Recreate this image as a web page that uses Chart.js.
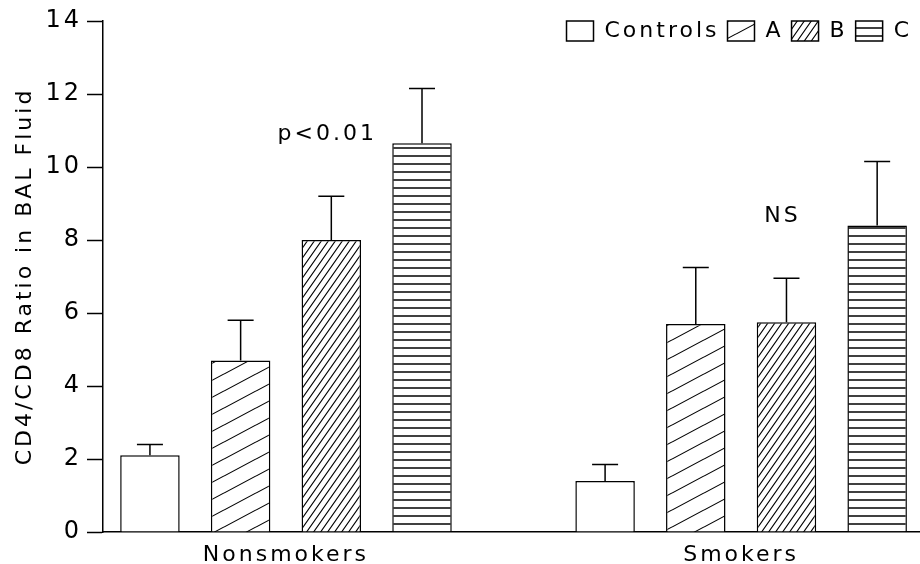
<!DOCTYPE html>
<html>
<head>
<meta charset="utf-8">
<script src="https://cdn.jsdelivr.net/npm/chart.js@4/dist/chart.umd.min.js"></script>
<style>
  html, body { margin: 0; padding: 0; background: #fff; }
  canvas { display: block; }
</style>
</head>
<body>
<canvas id="chart" width="920" height="564"></canvas>
<script>
// groups on the x axis
const groups = ['Nonsmokers', 'Smokers'];
const seriesNames = ['Controls', 'A', 'B', 'C'];

// mean CD4/CD8 ratio per group
const controls = [2.1, 1.4];
const groupA = [4.7, 5.7];
const groupB = [8.0, 5.75];
const groupC = [10.65, 8.4];

// standard error (drawn upward only)
const semControls = [0.3, 0.45];
const semA = [1.1, 1.55];
const semB = [1.2, 1.2];
const semC = [1.5, 1.75];

// significance label over each group
const sigLabels = ['p<0.01', 'NS'];

const yTicks = [0, 2, 4, 6, 8, 10, 12, 14];

const FONT = 'DejaVu Sans';
const canvas = document.getElementById('chart');
const ctx = canvas.getContext('2d');

// tile helper for the hatch fills
function hatch(w, h, draw) {
  const c = document.createElement('canvas');
  c.width = w;
  c.height = h;
  const g = c.getContext('2d');
  g.fillStyle = '#fff';
  g.fillRect(0, 0, w, h);
  g.strokeStyle = '#000';
  draw(g, w, h);
  return ctx.createPattern(c, 'repeat');
}

function diagonal(g, w, h) {
  g.lineWidth = 1.1;
  g.beginPath();
  for (let n = -1; n <= 1; n++) {
    g.moveTo(-w, 2 * h + n * h);
    g.lineTo(2 * w, -h + n * h);
  }
  g.stroke();
}

const sparseHatch = hatch(32, 17, diagonal);
const denseHatch = hatch(7, 10, diagonal);
const stripes = hatch(4, 8, (g, w) => {
  g.lineWidth = 1.5;
  g.beginPath();
  g.moveTo(0, 4);
  g.lineTo(w, 4);
  g.stroke();
});

const fills = ['#fff', sparseHatch, denseHatch, stripes];
const means = [controls, groupA, groupB, groupC];
const sems = [semControls, semA, semB, semC];

// the axis text in this figure is widely tracked
const tracking = {
  id: 'tracking',
  beforeLayout(chart) { chart.ctx.letterSpacing = '3px'; },
  beforeDraw(chart) { chart.ctx.letterSpacing = '3px'; }
};

// legend sits inside the plot's top band; give it room to draw there
const legendBand = {
  id: 'legendBand',
  afterLayout(chart) {
    const lg = chart.legend;
    lg.bottom = lg.top + 40;
    lg.height = 40;
  }
};

const errorBars = {
  id: 'errorBars',
  afterDatasetsDraw(chart) {
    const { ctx, scales: { y } } = chart;
    ctx.save();
    ctx.strokeStyle = '#000';
    ctx.lineWidth = 1.5;
    means.forEach((vals, i) => {
      chart.getDatasetMeta(i).data.forEach((bar, j) => {
        const top = y.getPixelForValue(vals[j] + sems[i][j]);
        ctx.beginPath();
        ctx.moveTo(bar.x, bar.y);
        ctx.lineTo(bar.x, top);
        ctx.moveTo(bar.x - 13, top);
        ctx.lineTo(bar.x + 13, top);
        ctx.stroke();
      });
    });
    ctx.restore();
  }
};

// p value / NS above the B bar of each group
const sigText = {
  id: 'sigText',
  afterDraw(chart) {
    const { ctx, scales: { y } } = chart;
    const meta = chart.getDatasetMeta(2);
    ctx.save();
    ctx.fillStyle = '#000';
    ctx.font = `22px "${FONT}"`;
    ctx.textAlign = 'center';
    ctx.textBaseline = 'middle';
    sigLabels.forEach((txt, j) => {
      const bar = meta.data[j];
      const capY = y.getPixelForValue(groupB[j] + semB[j]);
      ctx.fillText(txt, bar.x - 4, capY - 62);
    });
    ctx.restore();
  }
};

new Chart(canvas, {
  type: 'bar',
  data: {
    datasets: seriesNames.map((name, i) => ({
      label: name,
      data: means[i].map((v, j) => ({ x: j, y: v })),
      backgroundColor: fills[i],
      borderColor: '#000',
      borderWidth: 1.5,
      barPercentage: 0.656,
      categoryPercentage: 0.797
    }))
  },
  options: {
    responsive: false,
    animation: false,
    events: [],
    layout: { padding: { top: 12, left: 0, right: 0, bottom: 0 } },
    plugins: {
      tooltip: { enabled: false },
      legend: {
        position: 'top',
        align: 'end',
        maxHeight: 9,
        labels: {
          boxWidth: 27,
          boxHeight: 20,
          padding: 8,
          color: '#000',
          font: { family: FONT, size: 22 }
        }
      }
    },
    scales: {
      x: {
        type: 'linear',
        offset: false,
        min: -0.402,
        max: 1.393,
        afterBuildTicks: (axis) => { axis.ticks = groups.map((_, i) => ({ value: i })); },
        afterFit: (axis) => { axis.height = 32; },
        grid: { drawOnChartArea: false, drawTicks: false },
        border: { color: '#000', width: 1.5 },
        ticks: {
          callback: (v) => groups[v],
          color: '#000',
          autoSkip: false,
          maxRotation: 0,
          padding: 10,
          font: { family: FONT, size: 22 }
        }
      },
      y: {
        min: 0,
        max: 14,
        afterBuildTicks: (axis) => { axis.ticks = yTicks.map((v) => ({ value: v })); },
        afterFit: (axis) => { axis.width = 103; },
        grid: { drawOnChartArea: false, tickLength: 16, tickColor: '#000', tickWidth: 1.5 },
        border: { color: '#000', width: 1.5 },
        ticks: { color: '#000', padding: 5, font: { family: FONT, size: 24 } },
        title: {
          display: true,
          text: 'CD4/CD8 Ratio in BAL Fluid',
          color: '#000',
          padding: { top: 12, bottom: 0 },
          font: { family: FONT, size: 22 }
        }
      }
    }
  },
  plugins: [tracking, legendBand, errorBars, sigText]
});
</script>
</body>
</html>
